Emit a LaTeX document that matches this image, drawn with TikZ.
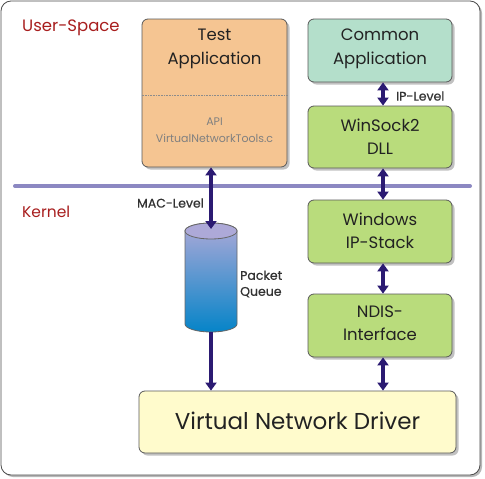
\documentclass[tikz,border=0pt]{standalone}
\usepackage{fontspec}
\setmainfont{Poppins}
\newfontfamily\medfont[FakeBold=0.6]{Poppins}
\usetikzlibrary{arrows.meta,shadows}
\definecolor{testfill}{HTML}{F5C592}
\definecolor{commonfill}{HTML}{B4DFCB}
\definecolor{greenfill}{HTML}{B9DC7C}
\definecolor{driverfill}{HTML}{FFFBCC}
\definecolor{arrowcol}{HTML}{2B1A72}
\definecolor{linecol}{HTML}{8C88C2}
\definecolor{redtext}{HTML}{A81E1E}
\definecolor{textcol}{HTML}{222222}
\definecolor{cyltopc}{HTML}{ADA9D8}
\definecolor{cylbotc}{HTML}{0584C8}
\tikzset{
  box/.style={draw=black!65, line width=0.8pt, rounded corners=6pt, inner sep=0pt,
    drop shadow={shadow xshift=2.5pt, shadow yshift=-2.5pt, fill=black!40, opacity=0.6}},
  boxtext/.style={text=textcol, align=center, font=\fontsize{16.5}{23.5}\selectfont},
  arr/.style={draw=arrowcol, line width=3.5pt, {Triangle[width=11pt,length=8pt]}-{Triangle[width=11pt,length=8pt]}},
  arrdown/.style={draw=arrowcol, line width=3.5pt, -{Triangle[width=11pt,length=8pt]}},
  lbl/.style={text=black!80, font=\medfont\fontsize{12.5}{16}\selectfont, inner sep=0pt, align=left},
  redlbl/.style={text=redtext, inner sep=0pt}
}
\begin{document}
\begin{tikzpicture}[x=1pt,y=-1pt]
\useasboundingbox (0,0) rectangle (485,479);
% outer frame
\draw[black!70, line width=0.8pt, fill=white, rounded corners=10pt,
  drop shadow={shadow xshift=2pt, shadow yshift=-2pt, fill=black!40, opacity=0.7}]
  (1,1) rectangle (480,475);

% boxes
\node[box, fill=testfill, minimum width=145pt, minimum height=148pt] (test) at (214.5,93) {};
\node[box, fill=commonfill, minimum width=144pt, minimum height=63pt] (common) at (380,50.5) {};
\node[box, fill=greenfill, minimum width=144pt, minimum height=62pt] (winsock) at (380,137) {};
\node[box, fill=greenfill, minimum width=144pt, minimum height=63pt] (ipstack) at (380,231.5) {};
\node[box, fill=greenfill, minimum width=144pt, minimum height=63pt] (ndis) at (380,325.5) {};
\node[box, fill=driverfill, minimum width=317pt, minimum height=62pt] (driver) at (297.5,422) {};

% box texts
\node[boxtext] (testtxt) at (214.5,49) {Test\\Application};
\draw[black!45, densely dotted, line width=0.6pt] ([yshift=-2pt]test.west) -- ([yshift=-2pt]test.east);
\node[text=black!50, align=center, font=\fontsize{11}{17}\selectfont] (apitxt) at (214.5,130) {API\\VirtualNetworkTools.c};
\node[boxtext] (commontxt) at (380,49) {Common\\Application};
\node[boxtext] (winsocktxt) at (380,136.5) {WinSock2\\DLL};
\node[boxtext] (ipstacktxt) at (380,231) {Windows\\IP-Stack};
\node[boxtext] (ndistxt) at (380,323) {NDIS-\\Interface};
\node[text=textcol, font=\fontsize{23}{28}\selectfont] (drivertxt) at (297.5,421) {Virtual Network Driver};

% separator line
\draw[linecol, line width=4pt, line cap=round] (15,186) -- (470,186);

% cylinder (packet queue)
\coordinate (cyltop) at (211,223);
\coordinate (cylbot) at (211,332);
\shade[top color=cyltopc, bottom color=cylbotc, draw=black!60, line width=0.8pt]
  (185,231) -- (185,324) arc[start angle=180, end angle=360, x radius=26pt, y radius=8pt]
  -- (237,231) arc[start angle=0, end angle=180, x radius=26pt, y radius=8pt] -- cycle;
\draw[black!60, line width=0.8pt, fill=cyltopc] (211,231) ellipse[x radius=26pt, y radius=8pt];

% arrows
\draw[arr] ([xshift=-3.5pt]test.south) -- ([yshift=-6pt]cyltop);
\draw[arrdown] (cylbot) -- (cylbot |- driver.north);
\draw[arr] ([xshift=3pt]common.south) -- ([xshift=3pt]winsock.north);
\draw[arr] ([xshift=3pt]winsock.south) -- ([xshift=3pt]ipstack.north);
\draw[arr] ([xshift=3pt]ipstack.south) -- ([xshift=3pt]ndis.north);
\draw[arr] ([xshift=3pt]ndis.south) -- ([xshift=3pt]ndis.south |- driver.north);

% labels
\node[redlbl, anchor=west, font=\fontsize{16.5}{19}\selectfont] (userspace) at (22,28) {User-Space};
\node[redlbl, anchor=west, font=\fontsize{15.5}{18}\selectfont] (kernel) at (22,212) {Kernel};
\node[lbl, anchor=east] (maclevel) at (204,203) {MAC-Level};
\node[lbl, anchor=west] (iplevel) at (396,96) {IP-Level};
\node[lbl, anchor=west] (pq) at (240,284) {Packet\\Queue};
\end{tikzpicture}
\end{document}
